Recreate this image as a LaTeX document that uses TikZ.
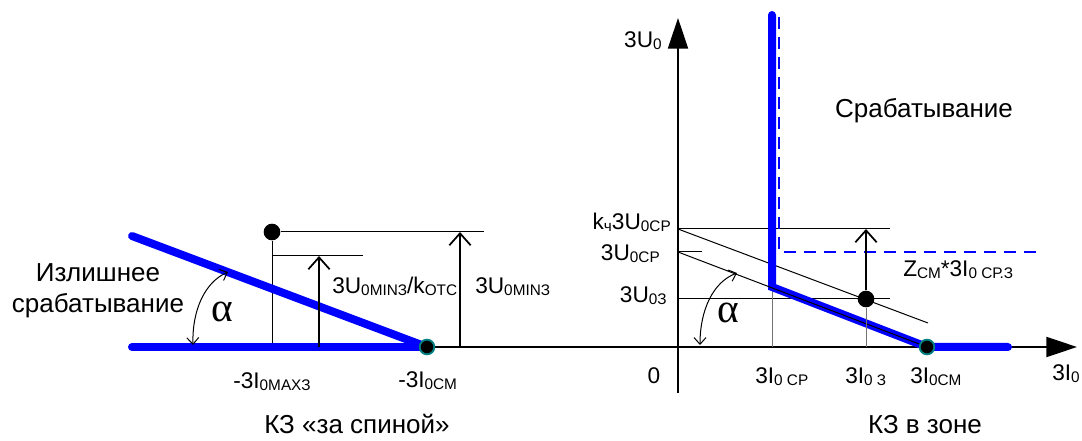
\documentclass[tikz,border=0pt]{standalone}
\usepackage{fontspec}
\setmainfont{Liberation Sans}
\newfontfamily\grkfont{Liberation Serif}
\usetikzlibrary{arrows.meta}
\newcommand\lo[1]{\raisebox{-1.5pt}{\fontsize{11.5}{12}\selectfont #1}}
\tikzset{rzblue/.style={draw=blue,line width=6pt,line cap=round},
         rzdash/.style={draw=blue,line width=1.5pt,dash pattern=on 9pt off 6pt},
         rzthin/.style={draw=black,line width=0.75pt},
         rzgrey/.style={draw=black!55,line width=0.75pt},
         rzaxis/.style={line width=1.5pt,-{Triangle[length=23pt,width=15pt]}},
         rzmeas/.style={line width=1.3pt,-{Straight Barb[length=9pt,width=16pt]}},
         rzang/.style={line width=0.75pt,{Straight Barb[length=5pt,width=9pt]}-{Straight Barb[length=5pt,width=9pt]}},
         rzdot/.style={circle,fill=black,inner sep=0pt,minimum size=12.5pt},
         rzend/.style={circle,fill=black,draw=teal,line width=1.4pt,inner sep=0pt,minimum size=11pt},
         rzlab/.style={font=\fontsize{17}{19}\selectfont,inner sep=0pt},
         rzbig/.style={font=\fontsize{19.5}{22}\selectfont,inner sep=0pt},
         rzalf/.style={font=\grkfont\fontsize{31}{33}\selectfont,inner sep=0pt}}

\begin{document}
\begin{tikzpicture}[x=0.75pt,y=-0.75pt]
  \useasboundingbox (0,0) rectangle (1082,441);
  % axes
  \coordinate (xs) at (427,347); \coordinate (xe) at (1077,347);
  \coordinate (ys) at (678,393); \coordinate (ye) at (678,18);
  \draw[rzaxis] (xs)--(xe); \draw[rzaxis] (ys)--(ye);
  \node[rzlab,anchor=base east] (lU) at (662,48) {3U\lo{0}};
  \node[rzlab,anchor=base west] (lI) at (1052,381) {3I\lo{0}};
  \node[rzlab,anchor=base] (l0) at (654,384) {0};
  % left: КЗ «за спиной»
  \coordinate (la) at (132,347); \coordinate (lb) at (132,236);
  \node[rzdot] (pm) at (272,232) {};
  \coordinate (pm0) at (272,347); \coordinate (pmr) at (484,232);
  \coordinate (pk) at (272,256); \coordinate (pkr) at (363,256);
  \coordinate (ak0) at (319,347); \coordinate (ak1) at (319,256);
  \coordinate (am0) at (460,347); \coordinate (am1) at (460,232);
  \draw[rzthin] (pm)--(pm0); \draw[rzthin] (pm)--(pmr); \draw[rzthin] (pk)--(pkr);
  \draw[rzblue] (la)--(xs); \draw[rzblue] (lb)--(xs);
  \draw[rzmeas] (ak0)--(ak1); \draw[rzmeas] (am0)--(am1);
  \node[rzend] (dl) at (xs) {};
  \coordinate (al1) at (228,272); \coordinate (al0) at (193,345);
  \draw[rzang] (al1) .. controls (205,282) and (192,310) .. (al0);
  \node[rzalf,anchor=base west] (alL) at (211,322) {α};
  \node[rzbig,anchor=base] (tz1) at (98,282) {Излишнее};
  \node[rzbig,anchor=base] (tz2) at (98,313) {срабатывание};
  \node[rzlab,anchor=base west] (lk) at (332,294) {3U\lo{0MINЗ}/k\lo{ОТС}};
  \node[rzlab,anchor=base west] (lm) at (475,294) {3U\lo{0MINЗ}};
  \node[rzlab,anchor=base west] (lmx) at (233,389) {-3I\lo{0MAXЗ}};
  \node[rzlab,anchor=base west] (lcm) at (398,388) {-3I\lo{0СМ}};
  \node[rzbig,anchor=base] (tl) at (357,434) {КЗ «за спиной»};
  % right: КЗ в зоне
  \coordinate (uk) at (678,229); \coordinate (ukr) at (890,229); \coordinate (uke) at (928,323);
  \coordinate (uc) at (678,252); \coordinate (ucr) at (702,252);
  \coordinate (u3) at (678,299); \coordinate (u3r) at (890,299);
  \coordinate (ra) at (772,15); \coordinate (rb) at (772,287);
  \coordinate (rc) at (927,347); \coordinate (rd) at (1008,347);
  \coordinate (da) at (779,17); \coordinate (db) at (779,252); \coordinate (dc) at (1038,252);
  \coordinate (g0) at (772,347);
  \coordinate (i0) at (866,347); \coordinate (i1) at (866,229);
  \draw[rzthin] (uk)--(ukr); \draw[rzthin] (uk)--(uke);
  \draw[rzthin] (uc)--(ucr); \draw[rzthin] (u3)--(u3r);
  \draw[rzgrey] (g0)--(rb);
  \draw[rzblue] (ra)--(rb)--(rc)--(rd);
  \draw[rzdash] (da)--(db)--(dc);
  \draw[rzthin] (uc)--(rc);
  \node[rzdot] (p3) at (866,299) {};
  \draw[rzgrey] (i0)--(p3); \draw[rzmeas] (p3)--(i1);
  \node[rzend] (dr) at (rc) {};
  \coordinate (ar1) at (737,273); \coordinate (ar0) at (700,345);
  \draw[rzang] (ar1) .. controls (713,282) and (700,310) .. (ar0);
  \node[rzalf,anchor=base west] (alR) at (717,323) {α};
  \node[rzlab,anchor=base east] (lkc) at (671,230) {k\lo{ч}3U\lo{0СР}};
  \node[rzlab,anchor=base east] (lcp) at (660,261) {3U\lo{0СР}};
  \node[rzlab,anchor=base east] (l03) at (667,303) {3U\lo{0З}};
  \node[rzlab,anchor=base west] (lz) at (903,277) {Z\lo{СМ}*3I\lo{0 СР.З}};
  \node[rzlab,anchor=base west] (lcr) at (755,384) {3I\lo{0 СР}};
  \node[rzlab,anchor=base west] (li3) at (845,384) {3I\lo{0 З}};
  \node[rzlab,anchor=base west] (lic) at (910,384) {3I\lo{0СМ}};
  \node[rzbig,anchor=base] (ts) at (924,118) {Срабатывание};
  \node[rzbig,anchor=base] (tr) at (925,434) {КЗ в зоне};
\end{tikzpicture}
\end{document}
